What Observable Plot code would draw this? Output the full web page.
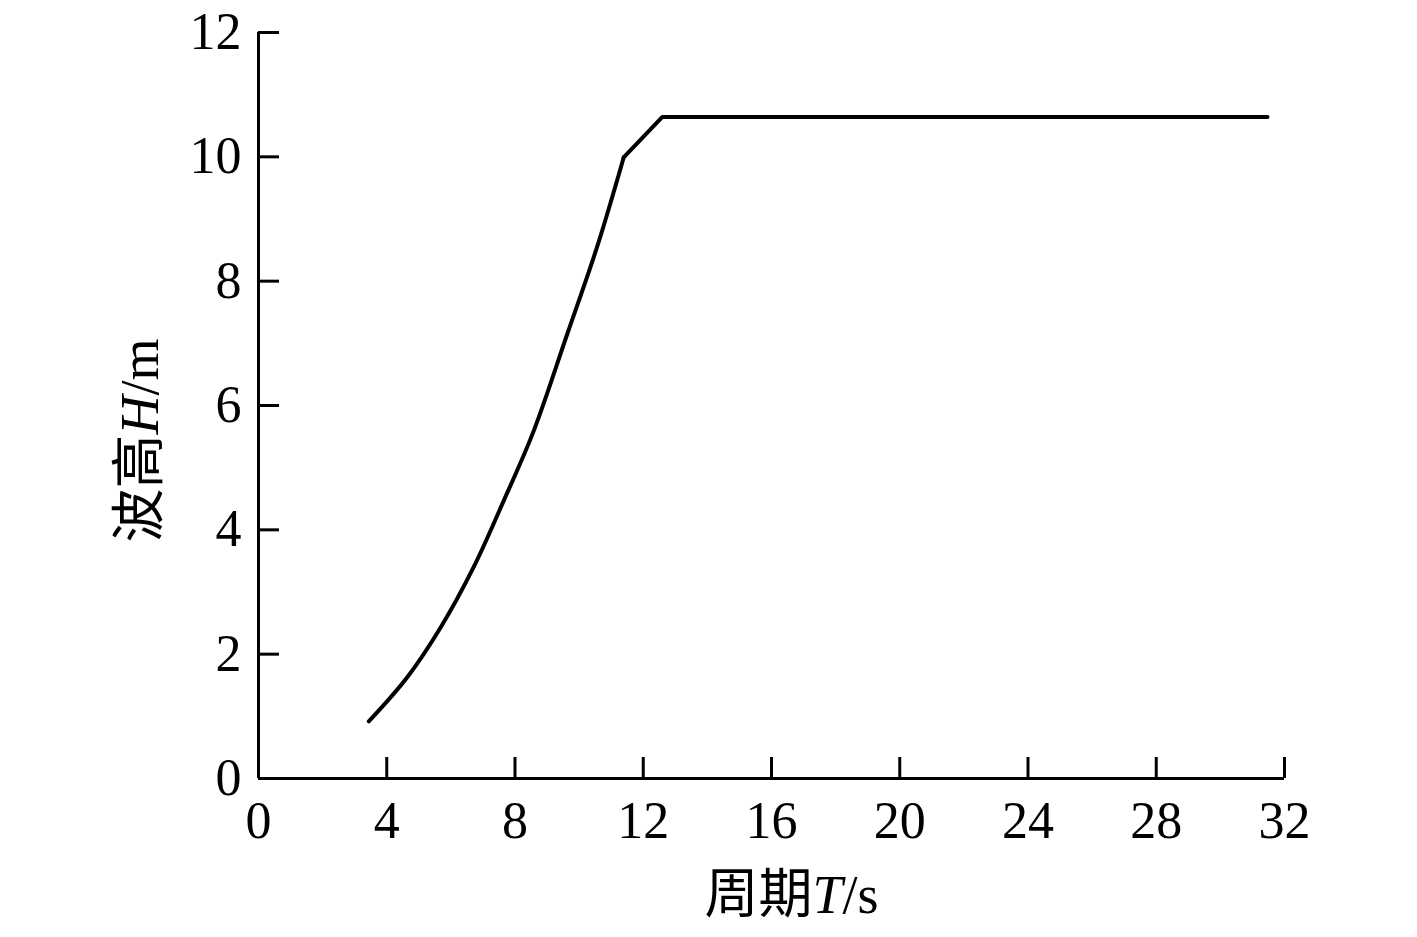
<!DOCTYPE html>
<html><head><meta charset="utf-8">
<script src="https://cdn.jsdelivr.net/npm/d3@7"></script>
<script src="https://cdn.jsdelivr.net/npm/@observablehq/plot@0.6"></script>
<style>body{margin:0;background:#fff}</style>
</head><body><div id="chart"></div>
<script>
const periodT = [3.44, 4.64, 5.68, 6.71, 7.65, 8.59, 9.63, 10.56, 11.39, 12.59, 31.47];
const waveH   = [0.92, 1.63, 2.43, 3.40, 4.47, 5.60, 7.15, 8.55, 9.99, 10.64, 10.64];
const xTicks = [0, 4, 8, 12, 16, 20, 24, 28, 32];
const yTicks = [0, 2, 4, 6, 8, 10, 12];
const xTitle = ["周期", "T", "/s"];
const yTitle = ["波高", "H", "/m"];

const data = periodT.map((t, i) => ({T: t, H: waveH[i]}));
const kink = 8; // index of the corner where the smooth rise meets the straight segments
const font = '"Liberation Serif","Times New Roman","Noto Sans CJK SC",serif';

const chart = Plot.plot({
  width: 1417, height: 937,
  marginLeft: 258, marginRight: 133, marginTop: 32, marginBottom: 159,
  style: {fontFamily: font, fontSize: "52px", background: "#fff", color: "#000", overflow: "visible"},
  x: {domain: [0, 32]},
  y: {domain: [0, 12]},
  marks: [
    Plot.axisX({ticks: xTicks, tickSize: 0, tickPadding: 23, label: null, fontSize: 52}),
    Plot.axisX({ticks: xTicks, tickSize: -21, text: null, label: null, strokeWidth: 3}),
    Plot.axisY({ticks: yTicks, tickSize: 0, tickPadding: 17, label: null, fontSize: 52}),
    Plot.axisY({ticks: yTicks, tickSize: -21, text: null, label: null, strokeWidth: 3}),
    Plot.ruleX([0], {stroke: "#000", strokeWidth: 3}),
    Plot.ruleY([0], {stroke: "#000", strokeWidth: 3}),
    Plot.line(data.slice(0, kink + 1), {x: "T", y: "H", stroke: "#000", strokeWidth: 4, curve: "catmull-rom"}),
    Plot.line(data.slice(kink), {x: "T", y: "H", stroke: "#000", strokeWidth: 4, strokeLinejoin: "miter"}),
    Plot.text([xTitle.join("")], {frameAnchor: "bottom", dy: 117, dx: 20, fontSize: 54, textAnchor: "middle", lineAnchor: "middle", className: "xtitle"}),
    Plot.text([yTitle.join("")], {frameAnchor: "left", dx: -118, dy: 35, rotate: -90, fontSize: 54, textAnchor: "middle", lineAnchor: "middle", className: "ytitle"})
  ]
});
document.getElementById("chart").appendChild(chart);

function styleTitle(sel, parts) {
  const t = chart.querySelector(sel + " text");
  if (!t) return;
  t.textContent = "";
  parts.forEach((p, i) => {
    const s = document.createElementNS("http://www.w3.org/2000/svg", "tspan");
    s.textContent = p;
    if (i === 1) s.setAttribute("font-style", "italic");
    if (i === 0) s.setAttribute("font-family", '"Noto Sans CJK SC",sans-serif');
    t.appendChild(s);
  });
}
styleTitle(".xtitle", xTitle);
styleTitle(".ytitle", yTitle);
</script>
</body></html>
